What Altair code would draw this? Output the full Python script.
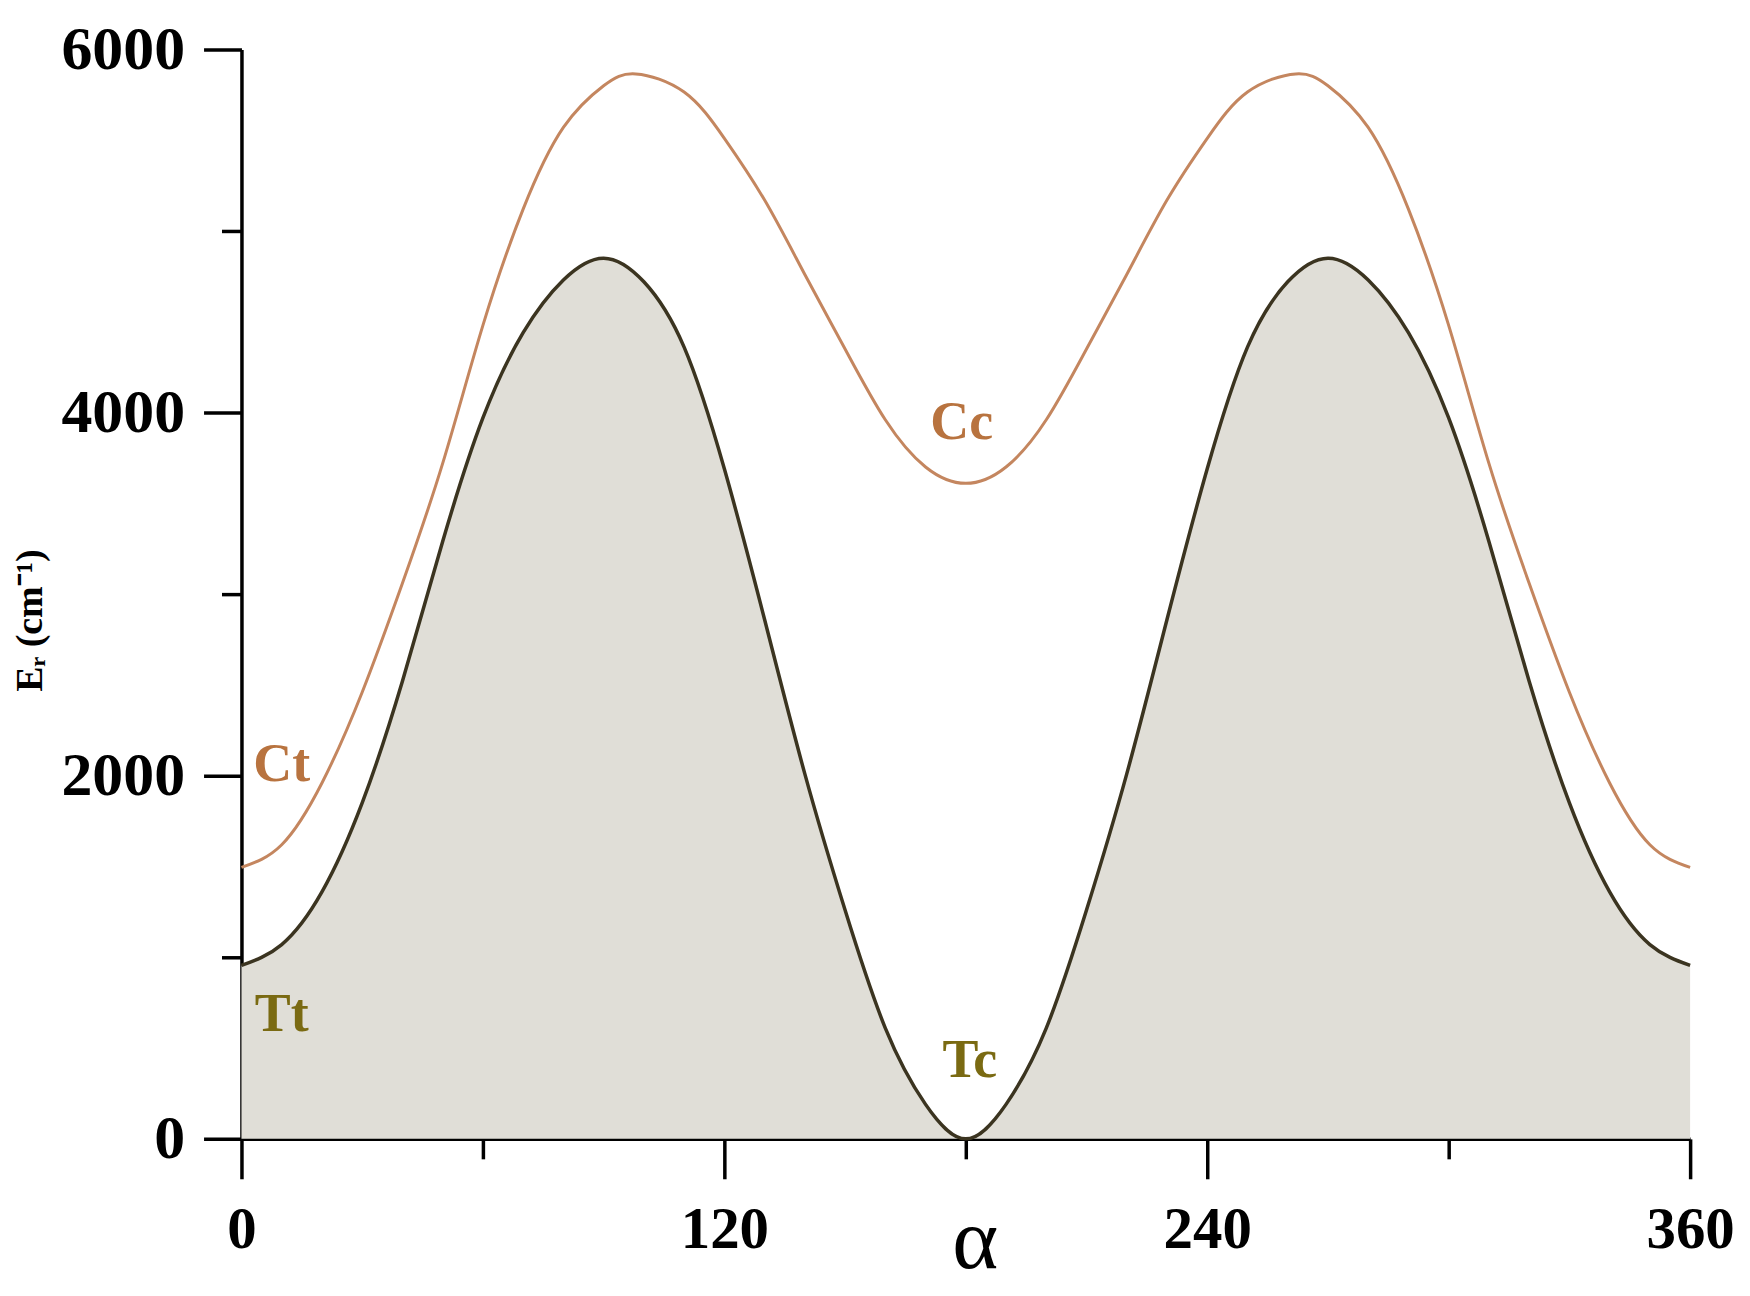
import altair as alt
import pandas as pd

# torsion angle (deg) and relative energy (cm-1)
tt_alpha = [0, 10, 20, 30, 40, 50, 60, 70, 80, 90, 100, 110, 120, 130, 140, 150, 160, 170, 180,
            190, 200, 210, 220, 230, 240, 250, 260, 270, 280, 290, 300, 310, 320, 330, 340, 350, 360]
tt_energy = [955, 1070, 1360, 1850, 2520, 3290, 3970, 4440, 4730, 4850, 4720, 4360, 3690, 2860, 2010, 1260, 610, 190, 0,
             190, 610, 1260, 2010, 2860, 3690, 4360, 4720, 4850, 4730, 4440, 3970, 3290, 2520, 1850, 1360, 1070, 955]

cc_alpha = [0, 10, 20, 30, 40, 50, 60, 70, 80, 90, 98, 110, 120, 130, 140, 150, 160, 170, 180,
            190, 200, 210, 220, 230, 240, 250, 262, 270, 280, 290, 300, 310, 320, 330, 340, 350, 360]
cc_energy = [1495, 1620, 1960, 2460, 3060, 3720, 4480, 5120, 5570, 5800, 5865, 5765, 5510, 5170, 4760, 4350, 3960, 3700, 3610,
             3700, 3960, 4350, 4760, 5170, 5510, 5765, 5865, 5800, 5570, 5120, 4480, 3720, 3060, 2460, 1960, 1620, 1495]

label_text = ["Cc", "Ct", "Tt", "Tc"]
label_alpha = [179, 10, 10, 181]
label_energy = [3940, 2060, 680, 430]
label_color = ["#b8733f", "#b8733f", "#7a6a12", "#7a6a12"]

x_ticks = [0, 60, 120, 180, 240, 300, 360]
y_ticks = [0, 1000, 2000, 3000, 4000, 5000, 6000]

tt = pd.DataFrame({"alpha": tt_alpha, "E": tt_energy})
cc = pd.DataFrame({"alpha": cc_alpha, "E": cc_energy})
labels = pd.DataFrame({"alpha": label_alpha, "E": label_energy, "text": label_text, "color": label_color})

FONT = "Liberation Serif"

x_scale = alt.Scale(domain=[0, 360], nice=False, zero=False)
y_scale = alt.Scale(domain=[0, 6000], nice=False)

x_axis = alt.Axis(
    values=x_ticks, grid=False, format="d",
    labelExpr="datum.value % 120 === 0 ? datum.label : ''",
    labelFont=FONT, labelFontSize=59, labelFontWeight="bold", labelColor="black",
    labelPadding=22, labelFlush=False, labelOverlap=False,
    tickSize={"condition": {"test": "datum.value % 120 === 0", "value": 40}, "value": 20},
    tickWidth=3.5, tickColor="black", domainWidth=3.5, domainColor="black",
    title="α", titleFont=FONT, titleFontSize=88, titleFontWeight="normal", titleColor="black",
    titleBaseline="alphabetic", titleY=129, titleX=735,
)

y_axis = alt.Axis(
    values=y_ticks, grid=False, format="d",
    labelExpr="datum.value % 2000 === 0 ? datum.label : ''",
    labelFont=FONT, labelFontSize=62, labelFontWeight="bold", labelColor="black",
    labelPadding=19, labelFlush=False, labelOverlap=False,
    tickSize={"condition": {"test": "datum.value % 2000 === 0", "value": 38}, "value": 20},
    tickWidth=3.5, tickColor="black", domainWidth=3.5, domainColor="black",
    title="Eᵣ (cm⁻¹)", titleFont=FONT, titleFontSize=38, titleFontWeight="bold", titleColor="black",
    titleAngle=270, titleX=-211, titleY=572, titleAlign="center", titleBaseline="middle",
)

area = alt.Chart(tt).mark_area(interpolate="natural", color="#e0ded7").encode(
    x=alt.X("alpha:Q", scale=x_scale, axis=x_axis),
    y=alt.Y("E:Q", scale=y_scale, axis=y_axis),
)

tt_line = alt.Chart(tt).mark_line(interpolate="natural", color="#3b3420", strokeWidth=3.5).encode(
    x="alpha:Q", y="E:Q"
)

cc_line = alt.Chart(cc).mark_line(interpolate="natural", color="#c4865f", strokeWidth=3).encode(
    x="alpha:Q", y="E:Q"
)

text = alt.Chart(labels).mark_text(
    font=FONT, fontSize=54, fontWeight="bold", align="center", baseline="middle"
).encode(
    x="alpha:Q", y="E:Q", text="text:N", color=alt.Color("color:N", scale=None)
)

chart = alt.layer(area, tt_line, cc_line, text).properties(
    width=1452, height=1092,
    autosize=alt.AutoSizeParams(type="none"),
    padding={"left": 234, "top": 40, "right": 52, "bottom": 148},
    background="white",
).configure_view(stroke=None)

chart.save("out.html", embed_options={"renderer": "svg", "actions": False})
